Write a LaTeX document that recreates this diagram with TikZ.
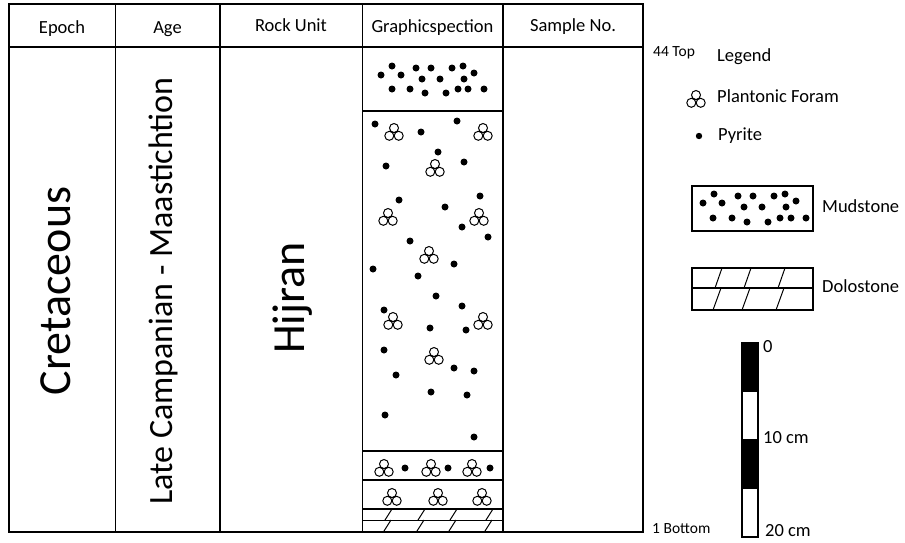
\documentclass[tikz,border=0pt]{standalone}
\usepackage{fontspec}
\setmainfont{Carlito}
\usetikzlibrary{positioning}
\tikzset{
  frame/.style    = {line width=1.8pt, line cap=rect},
  layer/.style    = {line width=1.6pt},
  thinline/.style = {line width=1pt},
  head/.style     = {anchor=base, inner sep=0pt, font=\fontsize{18.5}{22}\selectfont},
  big/.style      = {rotate=90, anchor=base, inner sep=0pt, font=\fontsize{46}{50}\selectfont},
  agetext/.style  = {rotate=90, anchor=base, inner sep=0pt, font=\fontsize{34}{38}\selectfont},
  legtext/.style  = {anchor=base west, inner sep=0pt, font=\fontsize{18.5}{22}\selectfont},
  marker/.style   = {anchor=base west, inner sep=0pt, font=\fontsize{15.5}{18}\selectfont},
  pyrite/.style   = {fill=black},
  foram/.pic      = {
    \draw[line width=1pt] (-4.7,3.8) circle[radius=4.5pt]
                          (4.7,3.8) circle[radius=4.5pt]
                          (0,-4) circle[radius=4.5pt];
  }
}

\begin{document}
\begin{tikzpicture}[x=1pt,y=-1pt]
\useasboundingbox (0,0) rectangle (905,542);

% the table with its header row
\draw[frame] (9,4) rectangle (643,532);
\draw[frame] (9,47) -- (643,47);
\foreach \cx in {115.5,220,362.5,503}
  \draw[frame] (\cx,4) -- (\cx,532);

\node[head] (hepoch)  at (62,33)    {Epoch};
\node[head] (hage)    at (167.5,33) {Age};
\node[head] (hrock)   at (291,31)   {Rock Unit};
\node[head] (hgraph)  at (432.5,32) {Graphicspection};
\node[head] (hsample) at (573,31)   {Sample No.};

% rotated column texts
\node[big]     (epoch) at (70,291)  {Cretaceous};
\node[agetext] (age)   at (172,291) {Late Campanian - Maastichtion};
\node[big]     (unit)  at (304,298) {Hijran};

% layers of the graphic section
\foreach \ly in {111,451,480,509}
  \draw[layer] (362.5,\ly) -- (503,\ly);
\draw[thinline] (362.5,520) -- (503,520);

% mudstone on top
\foreach \px/\py in {381/75,392/66,401/75,416/68,422/79,431/68,440/79,452/68,
                     463/66,464/79,474/73,392/89,410/89,425/93,446/93,458/89,468/89,484/89}
  \fill[pyrite] (\px,\py) circle[radius=3.5pt];

% main layer, pyrite and forams
\foreach \px/\py in {375/124,421/132,457/121,438/152,386/166,464/162,399/200,445/207,
                     480/196,462/227,488/237,410/241,454/264,373/269,418/276,436/296,
                     462/306,384/310,430/328,466/330,384/350,454/368,474/371,396/375,
                     431/392,467/395,385/415,474/437}
  \fill[pyrite] (\px,\py) circle[radius=3.5pt];
\foreach \fx/\fy in {394/132,483/132,435/168,388/217,479/217,429/255,393/321,483/321,434/356}
  \pic at (\fx,\fy) {foram};

% thin layers near the base
\foreach \fx in {384,431,472}
  \pic at (\fx,468) {foram};
\foreach \px in {405,448,490}
  \fill[pyrite] (\px,468) circle[radius=3.5pt];
\foreach \fx in {392,438,482}
  \pic at (\fx,497) {foram};

% dolostone
\foreach \sx in {385,418,450,486} {
  \draw[thinline] (\sx,520) -- ++(7,-11);
  \draw[thinline] (\sx-1,531) -- ++(7,-11);
}

% depth marks
\node[marker] (top)    at (653,56)  {44 Top};
\node[marker] (bottom) at (652,533) {1 Bottom};

% legend
\node[legtext] (legend) at (717,61.5) {Legend};
\pic at (696,99) {foram};
\node[legtext] (lforam) at (717,102.5) {Plantonic Foram};
\fill[pyrite] (699,136) circle[radius=3.2pt];
\node[legtext] (lpyrite) at (718,140.5) {Pyrite};

\draw[layer] (692,186) rectangle (813,231);
\foreach \px/\py in {703/203,714/194,722/203,738/196,744/207,753/196,762/207,774/196,
                     785/194,786/207,796/201,713/218,732/218,747/222,768/222,780/218,
                     791/218,806/218}
  \fill[pyrite] (\px,\py) circle[radius=3.5pt];
\node[legtext] (lmud) at (822,212.5) {Mudstone};

\draw[layer] (692,268) rectangle (813,310);
\draw[layer] (692,288) -- (813,288);
\foreach \sx in {715,744,778} {
  \draw[thinline] (\sx,288) -- ++(7,-20);
  \draw[thinline] (\sx-2,310) -- ++(8,-22);
}
\node[legtext] (ldolo) at (822,292.5) {Dolostone};

% scale bar
\draw[layer] (742,343) rectangle (758,537);
\fill (742,343) rectangle (758,392);
\fill (742,439) rectangle (758,489);
\node[legtext] (s0)  at (763,352.5) {0};
\node[legtext] (s10) at (763,443)   {10 cm};
\node[legtext] (s20) at (765,536)   {20 cm};

\end{tikzpicture}
\end{document}
